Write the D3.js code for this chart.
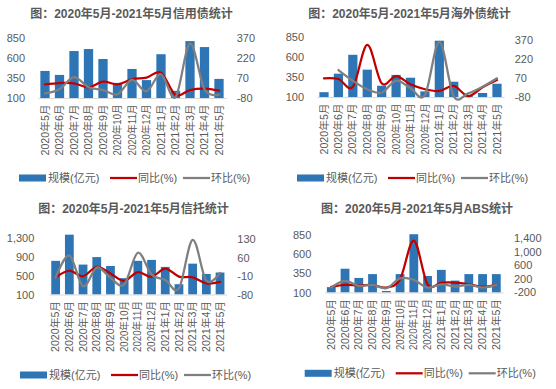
<!DOCTYPE html>
<html>
<head>
<meta charset="utf-8">
<script src="https://cdn.jsdelivr.net/npm/d3@7"></script>
<style>
  body { margin: 0; background: #fff; }
  text { font-family: "Liberation Sans", "Noto Sans CJK SC", sans-serif; fill: #595959; }
</style>
</head>
<body>
<script>
// months on the x axis (same for all four charts)
const months = ["2020年5月", "2020年6月", "2020年7月", "2020年8月", "2020年9月", "2020年10月",
  "2020年11月", "2020年12月", "2021年1月", "2021年2月", "2021年3月", "2021年4月", "2021年5月"];

const titles = [
  "图：2020年5月-2021年5月信用债统计",
  "图：2020年5月-2021年5月海外债统计",
  "图：2020年5月-2021年5月信托统计",
  "图：2020年5月-2021年5月ABS统计"
];
const legendLabels = ["规模(亿元)", "同比(%)", "环比(%)"];

// 信用债
const creditScale = [440, 390, 690, 715, 590, 290, 465, 325, 650, 190, 815, 740, 340];
const creditYoy = [23, 33, 31, 1, 43, 23, 61, 73, 111, -57, -20, -10, -25];
const creditMom = [-45, -14, 78, 1, -20, -52, 56, -30, 99, -74, 330, -14, -55];
const creditLeftTicks = [100, 350, 600, 850];
const creditRightTicks = [-80, 70, 220, 370];

// 海外债
const overseasScale = [160, 390, 625, 440, 240, 375, 340, 170, 800, 290, 115, 150, 265];
const overseasYoy = [69, 64, 3, 331, 30, 87, 22, -17, -30, 9, -70, -1, 56];
const overseasMom = [null, 134, 50, -17, -44, 50, -9, -62, 356, -72, -49, 3, 69];
const overseasLeftTicks = [100, 350, 600, 850];
const overseasRightTicks = [-80, 70, 220, 370];

// 信托
const trustScale = [820, 1380, 740, 900, 710, 450, 820, 840, 690, 320, 760, 540, 570];
const trustYoy = [-14, 11, -10, 26, 1, -27, 6, -12, 19, -11, -14, -37, -31];
const trustMom = [-15, 69, -48, 23, -16, -41, 79, -3, -24, -56, 128, -27, 3];
const trustLeftTicks = [100, 500, 900, 1300];
const trustRightTicks = [-80, -10, 60, 130];

// ABS
const absScale = [170, 410, 290, 340, 120, 340, 860, 315, 395, 255, 340, 340, 340];
const absYoy = [-47, 12, 0, 12, -67, 178, 1330, 30, 80, 80, 30, -47, 12];
const absMom = [-67, 130, -17, 12, -88, 207, 160, -67, 30, -38, 12, -67, 12];
const absLeftTicks = [100, 350, 600, 850];
const absRightTicks = [-200, 200, 600, 1000, 1400];

const charts = [
  { scale: creditScale, yoy: creditYoy, mom: creditMom, lt: creditLeftTicks, rt: creditRightTicks },
  { scale: overseasScale, yoy: overseasYoy, mom: overseasMom, lt: overseasLeftTicks, rt: overseasRightTicks },
  { scale: trustScale, yoy: trustYoy, mom: trustMom, lt: trustLeftTicks, rt: trustRightTicks },
  { scale: absScale, yoy: absYoy, mom: absMom, lt: absLeftTicks, rt: absRightTicks }
];

// where each panel sits
const layouts = [
  { ox: 0, oy: 0, band: [37.75, 226.25], yL: [98, 38.3], yR: [98, 38.3], titleX: 131.5, titleY: 14, leftX: 25, rightX: 236.7, legX: 19, legY: 178 },
  { ox: 278, oy: 0, band: [38.8, 226.2], yL: [97, 36.7], yR: [97.3, 40], titleX: 131.5, titleY: 14, leftX: 26, rightX: 236.7, legX: 19, legY: 178 },
  { ox: 0, oy: 195, band: [48.8, 226.9], yL: [99.5, 43.4], yR: [99.8, 44.3], titleX: 133.5, titleY: 14, leftX: 34.3, rightX: 237.3, legX: 20, legY: 180 },
  { ox: 278, oy: 195, band: [46.4, 225.2], yL: [97.5, 40], yR: [97, 43.3], titleX: 139, titleY: 13.3, leftX: 33.3, rightX: 236, legX: 26.7, legY: 178.3 }
];

const barColor = "#2e75b6";
const yoyColor = "#c00000";
const momColor = "#7f7f7f";

const fmt = d3.formatLocale({ decimal: ".", thousands: ",", grouping: [3], currency: ["", ""], minus: "-" }).format(",");

const svg = d3.select("body").append("svg")
  .attr("width", 556)
  .attr("height", 389);

svg.append("rect").attr("width", 556).attr("height", 389).attr("fill", "#fff");

charts.forEach(function(c, i) {
  const L = layouts[i];
  const g = svg.append("g").attr("transform", "translate(" + L.ox + "," + L.oy + ")");

  const x = d3.scaleBand().domain(months).range(L.band).paddingInner(0.36).paddingOuter(0.18);
  const yL = d3.scaleLinear().domain([c.lt[0], c.lt[c.lt.length - 1]]).range(L.yL);
  const yR = d3.scaleLinear().domain([c.rt[0], c.rt[c.rt.length - 1]]).range(L.yR);

  // title
  g.append("text")
    .attr("x", L.titleX)
    .attr("y", L.titleY)
    .attr("dy", "0.36em")
    .attr("text-anchor", "middle")
    .style("font-size", "12px")
    .style("font-weight", "bold")
    .text(titles[i]);

  // bars
  g.selectAll(".bar")
    .data(c.scale)
    .enter()
    .append("rect")
    .attr("class", "bar")
    .attr("x", (d, j) => x(months[j]))
    .attr("width", x.bandwidth())
    .attr("y", d => yL(d))
    .attr("height", d => yL(c.lt[0]) - yL(d))
    .attr("fill", barColor);

  // x axis
  const xAxis = g.append("g")
    .attr("transform", "translate(0," + yL(c.lt[0]) + ")")
    .call(d3.axisBottom(x).tickSize(0).tickSizeOuter(0));
  xAxis.select(".domain").attr("stroke", "#d9d9d9").attr("stroke-width", 1);
  xAxis.selectAll("text")
    .attr("transform", "rotate(-90)")
    .attr("x", -6.5)
    .attr("y", 0)
    .attr("dy", "0.36em")
    .attr("text-anchor", "end")
    .attr("textLength", 51)
    .attr("lengthAdjust", "spacingAndGlyphs")
    .style("font-size", "10px")
    .style("fill", "#595959");

  // left axis
  const la = g.append("g")
    .attr("transform", "translate(" + L.leftX + ",0)")
    .call(d3.axisLeft(yL).tickValues(c.lt).tickSize(0).tickPadding(0).tickFormat(fmt));
  la.select(".domain").remove();
  la.selectAll("text").style("font-size", "11px").style("fill", "#595959").attr("font-family", null);

  // right axis
  const ra = g.append("g")
    .attr("transform", "translate(" + L.rightX + ",0)")
    .call(d3.axisRight(yR).tickValues(c.rt).tickSize(0).tickPadding(0).tickFormat(fmt));
  ra.select(".domain").remove();
  ra.selectAll("text").style("font-size", "11px").style("fill", "#595959").attr("font-family", null);

  const line = d3.line()
    .defined(d => d != null)
    .x((d, j) => x(months[j]) + x.bandwidth() / 2)
    .y(d => yR(d))
    .curve(d3.curveCardinal);

  g.append("path")
    .attr("d", line(c.yoy))
    .attr("fill", "none")
    .attr("stroke", yoyColor)
    .attr("stroke-width", 2.25)
    .attr("stroke-linecap", "round");

  g.append("path")
    .attr("d", line(c.mom))
    .attr("fill", "none")
    .attr("stroke", momColor)
    .attr("stroke-width", 2.25)
    .attr("stroke-linecap", "round");

  // legend
  const lg = g.append("g").attr("transform", "translate(" + L.legX + "," + L.legY + ")");
  lg.append("rect").attr("x", 0).attr("y", -3.5).attr("width", 27).attr("height", 7).attr("fill", barColor);
  lg.append("text").attr("x", 29).attr("dy", "0.36em").style("font-size", "11px").text(legendLabels[0]);
  lg.append("line").attr("x1", 91).attr("x2", 118).attr("stroke", yoyColor).attr("stroke-width", 2.25);
  lg.append("text").attr("x", 119).attr("dy", "0.36em").style("font-size", "11px").text(legendLabels[1]);
  lg.append("line").attr("x1", 164).attr("x2", 191).attr("stroke", momColor).attr("stroke-width", 2.25);
  lg.append("text").attr("x", 192).attr("dy", "0.36em").style("font-size", "11px").text(legendLabels[2]);
});
</script>
</body>
</html>
